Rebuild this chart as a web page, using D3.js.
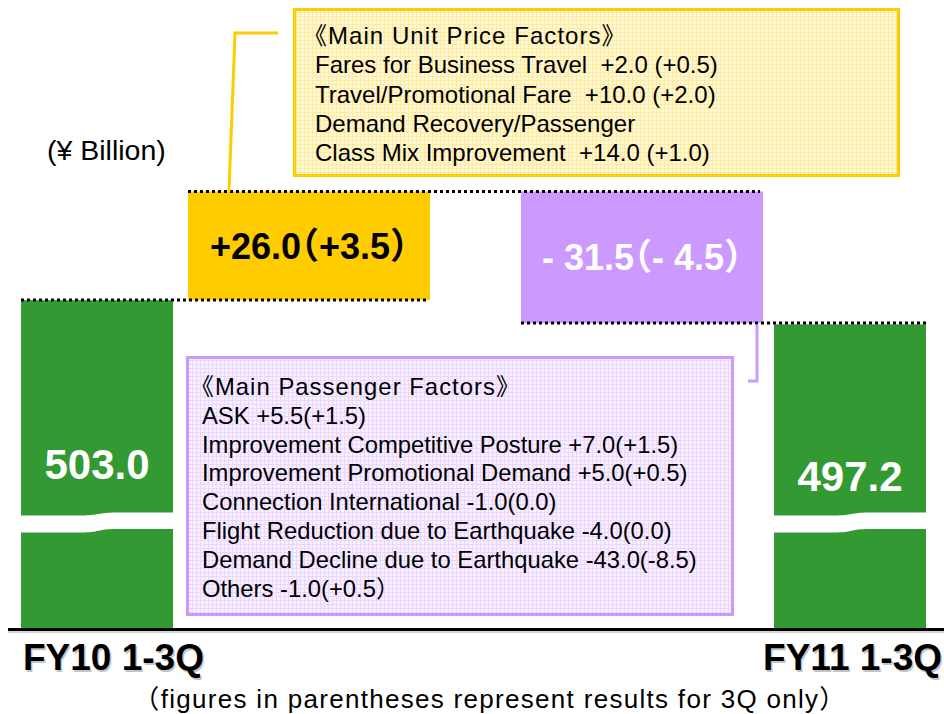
<!DOCTYPE html>
<html>
<head>
<meta charset="utf-8">
<script src="https://cdn.jsdelivr.net/npm/d3@7"></script>
<style>
  body { margin: 0; background: #fff; }
  svg text {
    font-family: 'Liberation Sans', Arial, 'Noto Sans CJK JP', sans-serif;
    font-feature-settings: 'halt';
    white-space: pre;
  }
</style>
</head>
<body>
<div id="chart"></div>
<script>
// Waterfall data (¥ Billion)
const categories = ['FY10 1-3Q', 'Unit Price', 'Passengers', 'FY11 1-3Q'];
const kinds = ['total', 'delta', 'delta', 'total'];
const values = [503.0, 26.0, -31.5, 497.2];
const q3Values = [null, 3.5, -4.5, null];
const barLabels = ['503.0', '+26.0（+3.5）', '- 31.5（- 4.5）', '497.2'];

const unitPriceTitle = '《Main Unit Price Factors》';
const unitPriceLines = [
  'Fares for Business Travel  +2.0 (+0.5)',
  'Travel/Promotional Fare  +10.0 (+2.0)',
  'Demand Recovery/Passenger',
  'Class Mix Improvement  +14.0 (+1.0)'
];

const passengerTitle = '《Main Passenger Factors》';
const passengerLines = [
  'ASK +5.5(+1.5)',
  'Improvement Competitive Posture +7.0(+1.5)',
  'Improvement Promotional Demand +5.0(+0.5)',
  'Connection International -1.0(0.0)',
  'Flight Reduction due to Earthquake -4.0(0.0)',
  'Demand Decline due to Earthquake -43.0(-8.5)',
  'Others -1.0(+0.5）'
];

const unitLabel = '(¥ Billion)';
const footnote = '（figures in parentheses represent results for 3Q only）';

const width = 944;
const height = 714;

const svg = d3.select('#chart')
  .append('svg')
  .attr('width', width)
  .attr('height', height);

// patterns for the callout boxes
const defs = svg.append('defs');
const makeGrid = (id, bg, line) => {
  const p = defs.append('pattern')
    .attr('id', id)
    .attr('width', 4)
    .attr('height', 4)
    .attr('patternUnits', 'userSpaceOnUse');
  p.append('rect').attr('width', 4).attr('height', 4).attr('fill', bg);
  p.append('path').attr('d', 'M0 0.5H4M0.5 0V4').attr('stroke', line).attr('stroke-width', 1);
};
makeGrid('gridYellow', '#FFF8D8', '#FFEB9C');
makeGrid('gridPurple', '#F8F0FF', '#EBD6FF');

// build waterfall
let running = 0;
const data = categories.map((c, i) => {
  let start;
  let end;
  if (kinds[i] === 'total') {
    start = null;
    end = values[i];
    running = values[i];
  } else {
    start = running;
    end = running + values[i];
    running = end;
  }
  return { cat: c, kind: kinds[i], value: values[i], q3: q3Values[i], start, end, label: barLabels[i] };
});

// scales (value axis is broken, bars stand on the baseline)
const baseY = 628;
const yScale = d3.scaleLinear().domain([480, 530]).range([396.3, 187.2]);
const xCenter = d3.scaleOrdinal().domain(categories).range([97, 309, 642, 850]);
const barWidth = (d) => (d.kind === 'total' ? 152 : 242);
const xLeft = (d) => xCenter(d.cat) - barWidth(d) / 2;

const colors = { 'FY10 1-3Q': '#339933', 'Unit Price': '#FFCC00', Passengers: '#CC99FF', 'FY11 1-3Q': '#339933' };

const chart = svg.append('g');

// bars
chart.selectAll('rect.bar')
  .data(data).enter()
  .append('rect')
  .attr('class', 'bar')
  .attr('x', (d) => xLeft(d))
  .attr('width', (d) => barWidth(d))
  .attr('y', (d) => (d.kind === 'total' ? yScale(d.end) : yScale(Math.max(d.start, d.end))))
  .attr('height', (d) => (d.kind === 'total'
    ? baseY - yScale(d.end)
    : Math.abs(yScale(d.start) - yScale(d.end))))
  .attr('fill', (d) => colors[d.cat]);

// axis break on the total bars
const breakTop = 514;
const breakPath = (d) => {
  const x0 = xLeft(d) - 2;
  const w = barWidth(d) + 4;
  const a = x0 + 0.4 * w;
  const b = x0 + 0.62 * w;
  const m = (a + b) / 2;
  return `M${x0},515.5 L${a},515.5 C${m},515.5 ${m},512.5 ${b},512.5 L${x0 + w},512.5`
    + ` L${x0 + w},529 L${b},529 C${m},529 ${m},532.5 ${a},532.5 L${x0},532.5 Z`;
};
chart.selectAll('path.break')
  .data(data.filter((d) => d.kind === 'total')).enter()
  .append('path')
  .attr('class', 'break')
  .attr('d', breakPath)
  .attr('fill', '#fff');

// dotted connectors
const links = d3.pairs(data).map(([a, b]) => ({
  x1: xLeft(a),
  x2: xLeft(b) + barWidth(b) + (b.kind === 'total' ? 3 : -3),
  y: yScale(a.end)
}));
chart.selectAll('line.link')
  .data(links).enter()
  .append('line')
  .attr('x1', (d) => d.x1)
  .attr('x2', (d) => d.x2)
  .attr('y1', (d) => d.y)
  .attr('y2', (d) => d.y)
  .attr('stroke', '#000')
  .attr('stroke-width', 3)
  .attr('stroke-dasharray', '3,3');

// bar labels
chart.selectAll('text.val')
  .data(data).enter()
  .append('text')
  .attr('class', 'val')
  .attr('x', (d) => xCenter(d.cat))
  .attr('y', (d) => {
    if (d.kind === 'total') return (yScale(d.end) + breakTop) / 2 + 72;
    return (yScale(d.start) + yScale(d.end)) / 2 + 13;
  })
  .attr('text-anchor', 'middle')
  .attr('font-weight', 'bold')
  .attr('font-size', (d) => (d.kind === 'total' ? 42 : 36))
  .attr('fill', (d) => (d.cat === 'Unit Price' ? '#000' : '#fff'))
  .text((d) => d.label);

// baseline
svg.append('line')
  .attr('x1', 8).attr('x2', width)
  .attr('y1', baseY + 4).attr('y2', baseY + 4)
  .attr('stroke', '#aaa').attr('stroke-width', 1);
svg.append('line')
  .attr('x1', 8).attr('x2', width)
  .attr('y1', baseY + 1.5).attr('y2', baseY + 1.5)
  .attr('stroke', '#000').attr('stroke-width', 3);

// category labels under the totals
const totals = data.filter((d) => d.kind === 'total');
[['#c4c4c4', 1.5], ['#000', 0]].forEach(([fill, off]) => {
  svg.selectAll(null)
    .data(totals).enter()
    .append('text')
    .attr('x', (d, i) => (i === 0 ? xLeft(d) + 2 : xLeft(d) + barWidth(d) + 16) + off)
    .attr('y', 670 + off)
    .attr('text-anchor', (d, i) => (i === 0 ? 'start' : 'end'))
    .attr('font-weight', 'bold')
    .attr('font-size', 37)
    .attr('fill', fill)
    .text((d) => d.cat);
});

// unit label
svg.append('text')
  .attr('x', 47).attr('y', 160)
  .attr('font-size', 28.5)
  .attr('fill', '#000')
  .text(unitLabel);

// footnote
svg.append('text')
  .attr('x', 490).attr('y', 708)
  .attr('text-anchor', 'middle')
  .attr('font-size', 26)
  .attr('letter-spacing', 1.3)
  .attr('fill', '#000')
  .text(footnote);

// callout boxes
const drawBox = (box) => {
  svg.append('polyline')
    .attr('points', box.leader.map((p) => p.join(',')).join(' '))
    .attr('fill', 'none')
    .attr('stroke', box.stroke)
    .attr('stroke-width', 3);
  svg.append('rect')
    .attr('x', box.x).attr('y', box.y)
    .attr('width', box.w).attr('height', box.h)
    .attr('fill', `url(#${box.pattern})`)
    .attr('stroke', box.stroke)
    .attr('stroke-width', 3);
  const t = svg.append('text').attr('font-size', box.fontSize).attr('fill', '#000');
  [box.title, ...box.lines].forEach((line, i) => {
    t.append('tspan')
      .attr('x', box.tx)
      .attr('y', box.ty + i * box.lh)
      .attr('letter-spacing', i === 0 ? 1.05 : 0)
      .text(line);
  });
};

const unitBar = data[1];
const paxBar = data[2];

drawBox({
  x: 294.5, y: 9.5, w: 604, h: 166,
  stroke: '#FFCC00', pattern: 'gridYellow',
  title: unitPriceTitle, lines: unitPriceLines,
  tx: 315, ty: 44, lh: 29.3, fontSize: 24,
  leader: [[278, 33], [235, 33], [229, yScale(unitBar.end)]]
});

drawBox({
  x: 187.5, y: 357.5, w: 545, h: 257,
  stroke: '#CC99FF', pattern: 'gridPurple',
  title: passengerTitle, lines: passengerLines,
  tx: 202, ty: 395, lh: 28.8, fontSize: 23.8,
  leader: [[748, 381], [757, 381], [757, yScale(paxBar.end) + 2]]
});
</script>
</body>
</html>
